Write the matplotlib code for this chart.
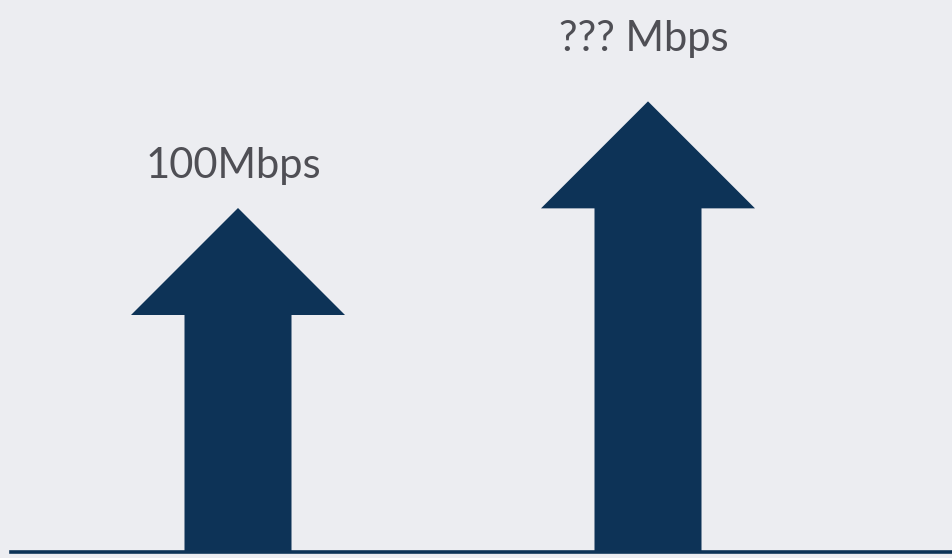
import matplotlib
matplotlib.use("Agg")
import matplotlib.pyplot as plt
from matplotlib.patches import FancyArrow

# Data
categories = ["Current", "Future"]
speeds = [100, 131]          # relative arrow heights (second is unknown)
labels = ["100Mbps", "??? Mbps"]

BG = "#ECEDF1"
NAVY = "#0D3357"
TEXT = "#4F4F55"

W, H = 953, 558
fig = plt.figure(figsize=(W / 100, H / 100), dpi=100, facecolor=BG)
ax = fig.add_axes([0, 0, 1, 1])
ax.set_facecolor(BG)

px_per_x = 410.0
x0_px = 238.0
base_px = 6.0
px_per_y = 3.44
ax.set_xlim(-x0_px / px_per_x, (W - x0_px) / px_per_x)
ax.set_ylim(-base_px / px_per_y, (H - base_px) / px_per_y)

shaft_w = 107 / px_per_x
head_w = 214 / px_per_x
head_l = 107 / px_per_y

label_offsets = [30, 50]  # pixel gap between tip and label baseline

for i, (v, lab) in enumerate(zip(speeds, labels)):
    arr = FancyArrow(i, 0, 0, v, width=shaft_w, head_width=head_w,
                     head_length=head_l, length_includes_head=True,
                     color=NAVY, lw=0)
    ax.add_patch(arr)
    ax.annotate(lab, xy=(i, v), xytext=(-3, label_offsets[i] * 0.72),
                textcoords="offset points", ha="center", va="baseline",
                fontsize=30, color=TEXT, family=["Lato", "DejaVu Sans"])

ax.axhline(0, xmin=11 / W, xmax=1, color=NAVY, lw=2.6)
ax.axis("off")

fig.savefig("out.png", dpi=100, facecolor=BG)
